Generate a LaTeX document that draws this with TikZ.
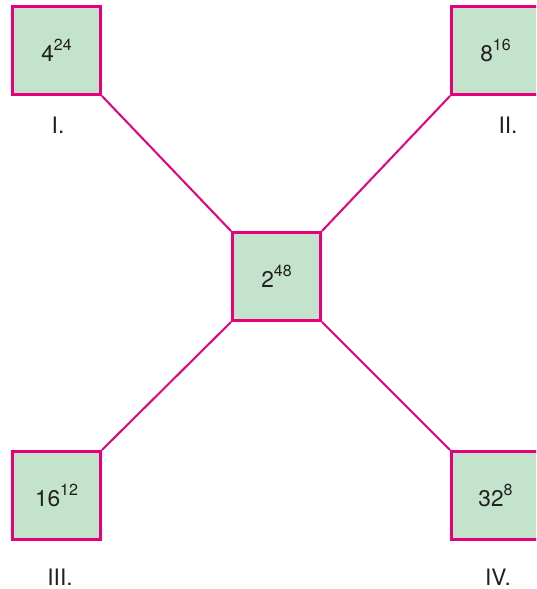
\documentclass[tikz,border=0pt]{standalone}
\usepackage{fontspec}
\setmainfont{TeX Gyre Heros}
\definecolor{boxgreen}{RGB}{195,227,205}
\definecolor{linkpink}{RGB}{230,0,126}
\definecolor{inkgray}{RGB}{35,31,32}
\newcommand{\pw}[2]{#1\raisebox{8.5pt}{\fontsize{12}{12}\selectfont #2}}

\begin{document}
\begin{tikzpicture}[x=0.75pt, y=-0.75pt, font=\fontsize{17}{20}\selectfont, text=inkgray]
		\useasboundingbox (0,0) rectangle (536,589);
		\clip (0,0) rectangle (536,589);
		\begin{scope}[every node/.style={draw=linkpink, fill=boxgreen, line width=2.2pt, minimum size=66pt, inner sep=0}]
		\node (n1) at (56.5,50.5) {\pw{4}{24}};
		\node (n2) at (495.5,50.5) {\pw{8}{16}};
		\node (n3) at (276.5,276.5) {\pw{2}{48}};
		\node (n4) at (56.5,495.5) {\pw{16}{12}};
		\node (n5) at (495.5,495.5) {\pw{32}{8}};
		\end{scope}
		
		\draw[-, color=linkpink, line width=1.5pt] (n1.south east) -- (n3.north west);
		\draw[-, color=linkpink, line width=1.5pt] (n2.south west) -- (n3.north east);
		\draw[-, color=linkpink, line width=1.5pt] (n4.north east) -- (n3.south west);
		\draw[-, color=linkpink, line width=1.5pt] (n5.north west) -- (n3.south east);
		
		\begin{scope}[every node/.style={inner sep=0}]
		\node (l1) at (58,125) {I.};
		\node (l2) at (508,125) {II.};
		\node (l3) at (60,577) {III.};
		\node (l4) at (498,577) {IV.};
		\end{scope}
		\end{tikzpicture}
\end{document}
